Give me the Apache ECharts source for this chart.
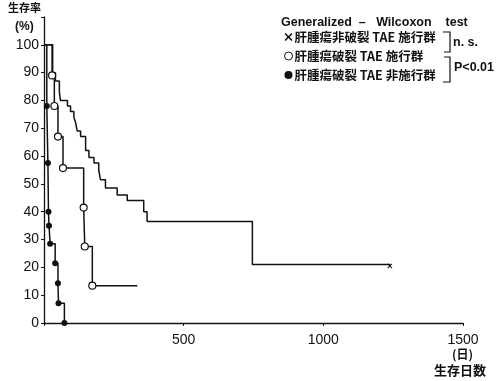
<!DOCTYPE html>
<html>
<head>
<meta charset="utf-8">
<script src="https://cdn.jsdelivr.net/npm/echarts@6/dist/echarts.min.js"></script>
<style>
html,body{margin:0;padding:0;background:#fff;}
#chart{width:497px;height:381px;}
</style>
</head>
<body>
<div id="chart"></div>
<script>
// ---- data (days, survival %) ----
const seriesNames = ['肝腫瘍非破裂 TAE 施行群', '肝腫瘍破裂 TAE 施行群', '肝腫瘍破裂 TAE 非施行群'];

const s1Days = [0, 31, 41, 55, 59, 84, 95, 107, 113, 119, 131, 149, 161, 179, 196, 202, 220, 262, 298, 357, 369, 746, 1238];
const s1Surv = [100, 90, 87, 83, 80, 78, 76, 74, 72, 69, 67, 62, 59.5, 57.5, 55, 51.5, 48.5, 46, 44, 40, 36.5, 21, 20.5];

const s2Days = [0, 29, 37, 50, 68, 142, 146, 173, 334];
const s2Surv = [100, 89, 78, 67, 55.7, 41.5, 27.5, 13.4, 13.4];

const s3Days = [0, 10, 14, 16, 18, 22, 40, 50, 52, 73];
const s3Surv = [100, 78, 57.5, 40, 35, 28.5, 21.5, 14.3, 7.1, 0];

const xTicks = [500, 1000, 1500];
const yTicks = [0, 10, 20, 30, 40, 50, 60, 70, 80, 90, 100];

const titleText = 'Generalized  –   Wilcoxon    test';
const nsText = 'n. s.';
const pText = 'P<0.01';
const yName1 = '生存率';
const yName2 = '(%)';
const xName1 = '(日)';
const xName2 = '生存日数';

// ---- build ----
const X_PATH = 'path://M0,1.4L1.4,0L5,3.6L8.6,0L10,1.4L6.4,5L10,8.6L8.6,10L5,6.4L1.4,10L0,8.6L3.6,5Z';
const numFont = '"Liberation Sans Narrow","Liberation Sans",Arial,sans-serif';
const cjkFont = '"Noto Sans CJK JP","Noto Sans",sans-serif';
const latFont = '"Liberation Sans",Arial,sans-serif';

function buildData(days, surv, markFn) {
  return days.map((d, i) => {
    const item = { value: [d, surv[i]] };
    if (!markFn(i)) item.symbol = 'none';
    return item;
  });
}
const isDrop = (surv) => (i) => i > 0 && surv[i] < surv[i - 1];

const chart = echarts.init(document.getElementById('chart'), null, { renderer: 'canvas' });

chart.setOption({
  backgroundColor: '#fff',
  animation: false,
  grid: { left: 44, right: 34, top: 17, bottom: 58 },
  xAxis: {
    type: 'value', min: 0, max: 1500, interval: 500,
    axisLine: { lineStyle: { color: '#111', width: 1.3 } },
    axisTick: { show: true, length: 3, lineStyle: { color: '#111' } },
    splitLine: { show: false },
    axisLabel: {
      color: '#111', fontFamily: numFont, fontSize: 14, margin: 10,
      formatter: v => xTicks.includes(v) ? String(v) : ''
    }
  },
  yAxis: {
    type: 'value', min: 0, max: 110, interval: 10,
    axisLine: { show: true, lineStyle: { color: '#111', width: 1.3 } },
    axisTick: { show: true, length: 3, lineStyle: { color: '#111' } },
    splitLine: { show: false },
    axisLabel: {
      color: '#111', fontFamily: numFont, fontSize: 14, margin: 5,
      formatter: v => yTicks.includes(v) ? String(v) : ''
    }
  },
  legend: {
    orient: 'vertical', left: 279, top: 25, itemGap: 5,
    itemWidth: 8, itemHeight: 8,
    textStyle: { color: '#111', fontFamily: cjkFont, fontSize: 12.5, fontWeight: 'bold', lineHeight: 14, padding: [0, 0, 0, -3] },
    data: [
      { name: seriesNames[0], icon: X_PATH, itemStyle: { color: '#111', borderWidth: 0 } },
      { name: seriesNames[1], icon: 'circle', itemStyle: { color: '#fff', borderColor: '#111', borderWidth: 1 } },
      { name: seriesNames[2], icon: 'circle', itemStyle: { color: '#111', borderWidth: 0 } }
    ]
  },
  series: [
    {
      name: seriesNames[0], type: 'line', step: 'end',
      data: buildData(s1Days, s1Surv, i => i === s1Days.length - 1),
      symbol: X_PATH, symbolSize: 5, showSymbol: true,
      itemStyle: { color: '#111' },
      lineStyle: { color: '#111', width: 1.5 }, z: 3
    },
    {
      name: seriesNames[1], type: 'line', step: 'end',
      data: buildData(s2Days, s2Surv, isDrop(s2Surv)),
      symbol: 'circle', symbolSize: 7, showSymbol: true,
      itemStyle: { color: '#fff', borderColor: '#111', borderWidth: 1.2 },
      lineStyle: { color: '#111', width: 1.5 }, z: 4
    },
    {
      name: seriesNames[2], type: 'line', step: 'end',
      data: buildData(s3Days, s3Surv, isDrop(s3Surv)),
      symbol: 'circle', symbolSize: 6, showSymbol: true,
      itemStyle: { color: '#111' },
      lineStyle: { color: '#111', width: 1.5 }, z: 5
    }
  ],
  graphic: [
    { type: 'text', left: 281, top: 16, style: { text: titleText, fill: '#111', font: 'bold 12.5px ' + latFont } },
    { type: 'polyline', shape: { points: [[443, 32], [450, 32], [450, 52], [444, 52]] }, style: { stroke: '#111', lineWidth: 1.2, fill: null } },
    { type: 'text', left: 453, top: 36, style: { text: nsText, fill: '#111', font: 'bold 12.5px ' + latFont } },
    { type: 'polyline', shape: { points: [[444, 57], [450, 57], [450, 82], [443, 82]] }, style: { stroke: '#111', lineWidth: 1.2, fill: null } },
    { type: 'text', left: 454, top: 61, style: { text: pText, fill: '#111', font: 'bold 12.5px ' + latFont } },
    { type: 'text', left: 8, top: 2, style: { text: yName1, fill: '#111', font: 'bold 11px ' + cjkFont } },
    { type: 'text', left: 15, top: 21, style: { text: yName2, fill: '#111', font: 'bold 12px ' + numFont } },
    { type: 'text', left: 452, top: 348, style: { text: xName1, fill: '#111', font: 'bold 12px ' + cjkFont } },
    { type: 'text', left: 434, top: 364, style: { text: xName2, fill: '#111', font: 'bold 13px ' + cjkFont } }
  ]
});
</script>
</body>
</html>
